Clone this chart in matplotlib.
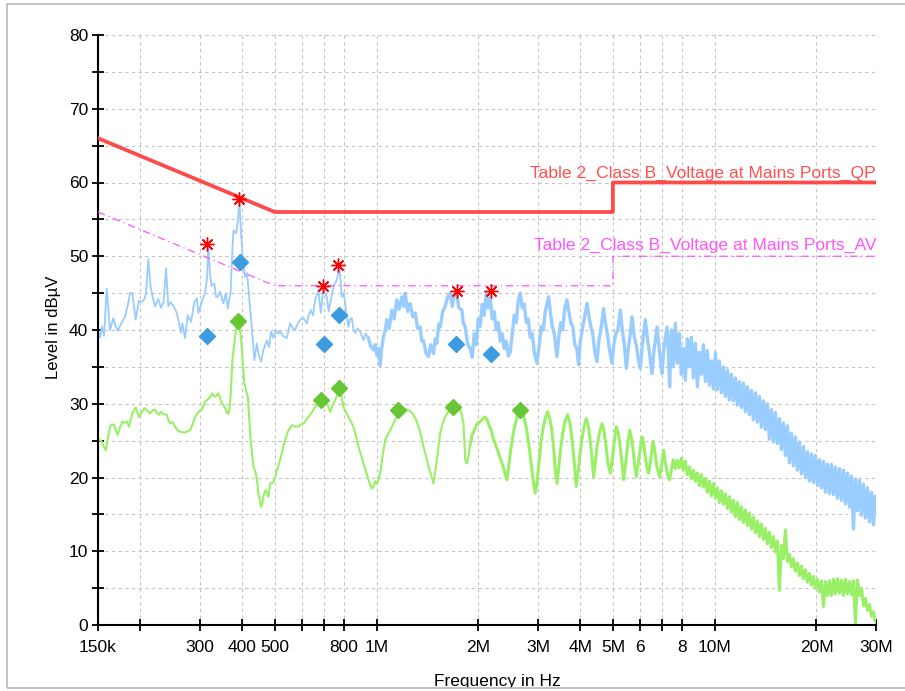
import matplotlib
matplotlib.use("Agg")
import matplotlib.pyplot as plt
import numpy as np
from matplotlib.patches import Rectangle
from matplotlib.ticker import MultipleLocator, NullLocator

plt.rcParams['font.family'] = ['Liberation Sans', 'DejaVu Sans']

# peak (QP scan) trace, 150 kHz .. 7.4 MHz, frequency in MHz, level in dBuV
peak_freq = [
    0.1500, 0.1521, 0.1541, 0.1563, 0.1592, 0.1611, 0.1628, 0.1665, 0.1690, 0.1716,
    0.1754, 0.1803, 0.1840, 0.1865, 0.1895, 0.1939, 0.1983, 0.2024, 0.2057, 0.2080,
    0.2113, 0.2145, 0.2175, 0.2212, 0.2262, 0.2304, 0.2344, 0.2384, 0.2422, 0.2458,
    0.2489, 0.2526, 0.2564, 0.2605, 0.2641, 0.2664, 0.2713, 0.2764, 0.2798, 0.2827,
    0.2891, 0.2939, 0.2971, 0.3041, 0.3110, 0.3152, 0.3181, 0.3218, 0.3251, 0.3314,
    0.3352, 0.3391, 0.3444, 0.3523, 0.3581, 0.3630, 0.3662, 0.3700, 0.3738, 0.3771,
    0.3841, 0.3894, 0.3929, 0.3974, 0.4015, 0.4084, 0.4140, 0.4183, 0.4226, 0.4275,
    0.4352, 0.4423, 0.4471, 0.4555, 0.4627, 0.4735, 0.4810, 0.4876, 0.4953, 0.5035,
    0.5114, 0.5184, 0.5302, 0.5427, 0.5493, 0.5550, 0.5645, 0.5742, 0.5873, 0.5982,
    0.6077, 0.6219, 0.6296, 0.6391, 0.6491, 0.6580, 0.6730, 0.6842, 0.6964, 0.7044,
    0.7127, 0.7215, 0.7289, 0.7455, 0.7629, 0.7766, 0.7894, 0.7991, 0.8073, 0.8156,
    0.8257, 0.8353, 0.8450, 0.8555, 0.8642, 0.8791, 0.8942, 0.9146, 0.9283, 0.9462,
    0.9606, 0.9791, 0.9904, 1.0020, 1.0144, 1.0248, 1.0353, 1.0481, 1.0603, 1.0727,
    1.0896, 1.1098, 1.1273, 1.1483, 1.1664, 1.1881, 1.2028, 1.2151, 1.2360, 1.2572,
    1.2788, 1.3008, 1.3232, 1.3459, 1.3597, 1.3765, 1.4020, 1.4241, 1.4457, 1.4736,
    1.4907, 1.5081, 1.5267, 1.5424, 1.5688, 1.5958, 1.6233, 1.6512, 1.6738, 1.6968,
    1.7236, 1.7496, 1.7882, 1.8041, 1.8288, 1.8603, 1.8923,
    1.9182, 1.9445, 1.9712, 1.9983, 2.0257, 2.0535, 2.0816, 2.1102, 2.1392, 2.1685,
    2.1983, 2.2284, 2.2590, 2.2901, 2.3215, 2.3533, 2.3856, 2.4183, 2.4515, 2.4852,
    2.5192, 2.5538, 2.5888, 2.6244, 2.6604, 2.6969, 2.7339, 2.7714, 2.8095, 2.8480,
    2.8870, 2.9267, 2.9811, 3.0282, 3.0697, 3.1118, 3.1545, 3.2263, 3.2639, 3.3086,
    3.3540, 3.4161, 3.4585, 3.5060, 3.5540, 3.6028, 3.6573, 3.7023, 3.7532, 3.8046,
    3.8569, 3.9097, 3.9579, 4.0042, 4.0590, 4.1147, 4.1912, 4.2429, 4.3012, 4.3601,
    4.4200, 4.4868, 4.5421, 4.6046, 4.6933, 4.7477, 4.8129, 4.8790, 4.9695, 5.0310,
    5.1000, 5.1700, 5.2588, 5.3309, 5.4041, 5.4782, 5.5535, 5.6296, 5.6952, 5.7851,
    5.8645, 5.9451, 6.0266, 6.1092, 6.2353, 6.3209, 6.4079, 6.5268, 6.6073, 6.7533,
    6.8363, 6.9066, 6.9869, 7.0733, 7.2293, 7.2936, 7.3585,
]
peak_level = [
    40.0, 39.0, 40.5, 39.2, 45.6, 42.5, 40.0, 41.6, 40.5, 39.9,
    40.8, 41.8, 43.5, 45.0, 45.0, 41.4, 44.0, 43.8, 44.2, 45.0,
    49.6, 46.0, 44.5, 43.2, 44.2, 43.0, 43.8, 48.4, 43.2, 43.8,
    43.4, 43.0, 42.3, 41.0, 39.6, 40.9, 38.9, 42.0, 41.5, 41.1,
    43.8, 44.3, 42.3, 43.8, 45.0, 47.0, 51.5, 47.5, 46.0, 46.3,
    44.5, 44.5, 45.2, 43.6, 45.0, 42.9, 44.0, 45.0, 50.0, 53.5,
    53.1, 55.0, 57.6, 53.0, 50.0, 47.2, 47.7, 45.4, 43.0, 40.4,
    35.9, 38.2, 36.8, 35.7, 37.3, 38.6, 37.7, 39.8, 38.9, 40.0,
    39.5, 39.8, 39.1, 38.9, 40.0, 40.9, 40.3, 40.0, 41.1, 41.5,
    41.6, 40.9, 42.0, 42.7, 42.0, 44.1, 45.4, 42.3, 45.9, 45.0,
    44.5, 42.5, 43.6, 45.9, 46.8, 48.5, 44.5, 45.0, 43.6, 42.0,
    40.4, 41.5, 41.6, 40.0, 39.6, 40.2, 39.8, 38.6, 39.5, 38.9,
    37.8, 37.3, 38.0, 36.6, 37.5, 35.2, 37.5, 39.1, 40.0, 41.4,
    40.2, 42.7, 41.5, 44.1, 42.8, 44.5, 43.2, 45.0, 42.5, 43.6,
    41.8, 42.3, 40.2, 40.4, 38.5, 38.6, 36.8, 36.4, 38.0, 36.8,
    38.8, 38.2, 40.8, 40.4, 42.5, 43.2, 44.5, 45.0, 43.2, 44.8,
    45.3, 43.0, 42.7, 41.0, 40.4, 38.0, 37.5,
    36.3, 39.5, 38.0, 41.5, 40.5, 43.5, 42.0, 45.0, 43.0, 44.5,
    41.5, 42.5, 40.0, 41.0, 38.5, 39.5, 37.5, 38.5, 36.5, 37.0,
    39.5, 42.0, 41.0, 44.0, 45.0, 43.0, 43.5, 41.0, 41.5, 39.0,
    39.5, 37.0, 35.5, 38.0, 40.5, 40.0, 42.5, 44.5, 42.5, 40.5,
    39.5, 36.4, 39.0, 41.0, 40.0, 43.0, 44.1, 42.5, 41.0, 40.5,
    38.0, 37.5, 35.3, 38.5, 40.0, 41.5, 43.6, 42.0, 40.5, 39.5,
    37.0, 35.7, 38.5, 40.0, 42.9, 41.0, 39.5, 37.5, 35.5, 38.0,
    39.5, 40.0, 42.7, 40.0, 38.0, 34.8, 37.5, 39.5, 41.8, 39.0,
    38.0, 36.0, 34.8, 38.0, 41.4, 39.0, 37.0, 34.1, 37.0, 40.4,
    38.0, 36.0, 34.1, 37.5, 40.4, 37.0, 32.3,
]

# average trace, 150 kHz .. 7.4 MHz
avg_freq = [
    0.1500, 0.1521, 0.1538, 0.1557, 0.1581, 0.1606, 0.1628, 0.1650, 0.1676, 0.1696,
    0.1716, 0.1743, 0.1770, 0.1797, 0.1824, 0.1853, 0.1895, 0.1939, 0.1963, 0.1983,
    0.2024, 0.2066, 0.2102, 0.2138, 0.2175, 0.2212, 0.2242, 0.2273, 0.2304, 0.2341,
    0.2395, 0.2425, 0.2450, 0.2492, 0.2535, 0.2578, 0.2623, 0.2713, 0.2808, 0.2856,
    0.2905, 0.2971, 0.3041, 0.3078, 0.3110, 0.3163, 0.3218, 0.3268, 0.3307, 0.3345,
    0.3405, 0.3444, 0.3485, 0.3528, 0.3564, 0.3613, 0.3645, 0.3675, 0.3700, 0.3746,
    0.3802, 0.3860, 0.3921, 0.3993, 0.4029, 0.4065, 0.4112, 0.4160, 0.4197, 0.4226,
    0.4275, 0.4322, 0.4393, 0.4432, 0.4471, 0.4524, 0.4555, 0.4595, 0.4627, 0.4665,
    0.4703, 0.4745, 0.4787, 0.4843, 0.4893, 0.4953, 0.5011, 0.5069, 0.5132, 0.5184,
    0.5302, 0.5364, 0.5475, 0.5614, 0.5742, 0.5873, 0.5962, 0.6077, 0.6210, 0.6360,
    0.6469, 0.6580, 0.6694, 0.6809, 0.6973, 0.7127, 0.7215, 0.7289, 0.7414, 0.7541,
    0.7645, 0.7766, 0.7872, 0.7981, 0.8128, 0.8257, 0.8410, 0.8543, 0.8701, 0.8839,
    0.9003, 0.9146, 0.9315, 0.9462, 0.9573, 0.9684, 0.9804, 0.9904, 1.0020, 1.0144,
    1.0248, 1.0424, 1.0603, 1.0786, 1.0970, 1.1159, 1.1350, 1.1546, 1.1744, 1.2012,
    1.2292, 1.2572, 1.2858, 1.3097, 1.3303, 1.3551, 1.3765, 1.4020, 1.4241, 1.4506,
    1.4736, 1.4907, 1.5081, 1.5267, 1.5424, 1.5688, 1.5958, 1.6288, 1.6704, 1.7083,
    1.7472, 1.7797, 1.8078, 1.8288, 1.8503, 1.8730, 1.8923,
    1.9182, 1.9512, 1.9847, 2.0257, 2.0674, 2.0958, 2.1246, 2.1538, 2.1834, 2.2133,
    2.2436, 2.2744, 2.3057, 2.3373, 2.3694, 2.4018, 2.4299, 2.4599, 2.4936, 2.5278,
    2.5626, 2.5976, 2.6333, 2.6604, 2.6969, 2.7339, 2.7714, 2.8095, 2.8480, 2.8870,
    2.9168, 2.9467, 2.9871, 3.0282, 3.0697, 3.1118, 3.1545, 3.2043, 3.2529, 3.2974,
    3.3427, 3.3769, 3.4161, 3.4585, 3.5060, 3.5540, 3.6028, 3.6722, 3.7278, 3.7788,
    3.8307, 3.8964, 3.9500, 4.0042, 4.0590, 4.1147, 4.1712, 4.2285, 4.2865, 4.3394,
    4.3842, 4.4350, 4.4960, 4.5577, 4.6422, 4.6996, 4.7640, 4.8296, 4.9124, 4.9798,
    5.0481, 5.1173, 5.1877, 5.2588, 5.3237, 5.3786, 5.4410, 5.5155, 5.6029, 5.6682,
    5.7458, 5.8051, 5.8645, 5.9451, 6.0266, 6.0968, 6.1721, 6.2353, 6.3120, 6.3771,
    6.4517, 6.5718, 6.6526, 6.7436, 6.8738, 6.9537, 7.0637, 7.1458, 7.2437, 7.3585,
]
avg_level = [
    25.3, 25.0, 24.9, 24.2, 23.7, 25.5, 26.9, 27.2, 27.1, 26.3,
    25.8, 26.8, 27.6, 27.4, 27.6, 26.9, 28.7, 29.5, 28.8, 28.2,
    28.9, 29.4, 29.0, 28.7, 29.1, 29.2, 28.8, 28.5, 28.9, 28.6,
    28.5, 27.8, 27.3, 27.5, 26.9, 26.4, 26.2, 26.1, 26.4, 27.2,
    28.2, 28.9, 29.2, 29.8, 30.3, 30.6, 30.9, 31.4, 31.0, 31.0,
    31.4, 30.8, 30.1, 29.8, 29.4, 28.8, 28.6, 29.5, 31.0, 35.9,
    38.5, 40.9, 41.4, 37.7, 35.0, 32.8, 31.8, 31.0, 28.5, 26.0,
    23.5, 21.5, 20.6, 19.5, 17.9, 16.8, 16.0, 16.5, 17.4, 18.0,
    18.3, 17.8, 17.4, 19.2, 19.2, 19.4, 20.0, 21.0, 21.7, 22.4,
    24.2, 25.1, 26.3, 27.1, 26.9, 26.9, 27.2, 27.3, 27.9, 28.5,
    29.0, 29.6, 30.0, 30.5, 30.5, 30.1, 29.5, 28.9, 29.8, 30.5,
    31.2, 32.1, 31.0, 29.6, 28.8, 28.2, 27.5, 26.9, 25.5, 24.2,
    23.0, 21.9, 20.7, 19.7, 19.0, 18.5, 18.8, 19.5, 19.2, 19.8,
    20.6, 23.0, 25.1, 25.8, 26.4, 27.1, 27.8, 28.5, 29.2, 29.4,
    29.2, 29.0, 28.5, 27.8, 26.9, 25.6, 24.2, 22.8, 21.5, 20.3,
    19.2, 20.8, 22.4, 24.3, 26.0, 27.3, 28.2, 28.9, 29.6, 29.8,
    29.6, 28.8, 27.3, 22.4, 21.9, 23.0, 24.5,
    25.8, 26.5, 27.3, 27.6, 28.0, 28.2, 27.8, 27.0, 26.4, 25.3,
    24.6, 23.8, 23.0, 22.3, 21.4, 20.4, 19.7, 21.5, 23.8, 25.6,
    27.0, 28.0, 28.9, 29.4, 29.0, 28.0, 26.8, 25.0, 23.0, 20.6,
    19.0, 17.9, 19.5, 22.5, 25.0, 26.8, 28.0, 28.9, 28.0, 26.5,
    23.8, 21.0, 19.2, 21.5, 24.0, 26.0, 27.5, 28.5, 27.5, 25.5,
    22.8, 18.8, 21.0, 23.5, 25.5, 27.0, 28.0, 27.0, 25.0, 22.5,
    20.1, 22.0, 24.5, 26.0, 27.3, 26.5, 24.5, 22.0, 20.6, 22.5,
    25.0, 26.9, 26.0, 24.0, 21.8, 19.7, 21.5, 24.0, 26.4, 25.5,
    23.5, 21.5, 20.1, 22.0, 24.0, 25.5, 24.5, 22.8, 21.2, 20.6,
    22.0, 24.9, 23.5, 21.5, 20.1, 21.5, 23.7, 22.0, 20.5, 19.7,
]

# dense sweep above 7.4 MHz, shared by both traces
band_freq = [
    7.444, 7.546, 7.650, 7.755,
    7.861, 7.969, 8.078, 8.189, 8.301,
    8.416, 8.531, 8.648, 8.766, 8.887,
    9.009, 9.133, 9.258, 9.385, 9.514,
    9.644, 9.777, 9.911, 10.047, 10.185,
    10.324, 10.466, 10.609, 10.755, 10.902,
    11.053, 11.204, 11.358, 11.514, 11.672,
    11.832, 11.994, 12.159, 12.326, 12.495,
    12.666, 12.839, 13.016, 13.194, 13.375,
    13.560, 13.745, 13.934, 14.125, 14.319,
    14.515, 14.714, 14.916, 15.121, 15.328,
    15.539, 15.752, 15.968, 16.187, 16.409,
    16.634, 16.862, 17.094, 17.328, 17.566,
    17.808, 18.052, 18.299, 18.550, 18.805,
    19.064, 19.325, 19.590, 19.859, 20.132,
    20.408, 20.688, 20.972, 21.259, 21.551,
    21.847, 22.146, 22.450, 22.758, 23.071,
    23.388, 23.709, 24.034, 24.363, 24.698,
    25.037, 25.380, 25.728, 26.081, 26.440,
    26.802, 27.170, 27.542, 27.920, 28.304,
    28.693, 29.086, 29.485, 29.80, 30.0,
]
band_peak = [
    40.0, 35.0, 40.9, 35.5,
    39.5, 34.0, 37.5, 33.2, 38.8,
    35.0, 39.0, 33.5, 38.2, 32.3,
    37.0, 34.0, 38.0, 33.0, 37.2,
    32.5, 35.8, 32.0, 36.9, 31.9,
    35.8, 31.5, 35.0, 31.0, 34.6,
    30.5, 34.0, 30.4, 33.5, 29.8,
    33.0, 29.5, 32.8, 28.9, 32.3,
    28.5, 31.8, 27.8, 31.5, 27.5,
    31.0, 26.8, 30.4, 26.5, 30.0,
    25.2, 29.2, 24.8, 28.8, 24.6,
    28.0, 23.8, 27.4, 23.0, 27.0,
    22.0, 26.0, 21.6, 25.5, 21.0,
    24.8, 20.5, 24.2, 20.0, 23.5,
    19.5, 23.2, 19.3, 23.0, 18.9,
    22.4, 18.6, 22.2, 18.0, 21.8,
    17.8, 21.8, 17.7, 21.4, 17.2,
    21.2, 16.9, 21.0, 16.4, 20.6,
    16.0, 20.2, 13.0, 19.8, 15.5,
    19.6, 14.9, 19.1, 14.5, 18.6,
    14.0, 18.0, 13.6, 17.5, 15.0,
]
band_avg = [
    21.0, 22.4, 21.2, 22.3,
    21.3, 22.6, 21.0, 22.2, 20.4,
    21.4, 19.8, 21.0, 19.5, 20.6,
    18.9, 20.4, 18.7, 19.9, 18.0,
    19.5, 17.5, 19.2, 17.2, 18.6,
    16.6, 18.2, 16.4, 17.8, 15.8,
    17.4, 15.3, 16.9, 14.7, 16.6,
    14.3, 16.0, 13.9, 15.6, 13.5,
    15.2, 13.0, 14.6, 12.5, 14.1,
    12.0, 13.7, 11.6, 13.1, 11.0,
    12.6, 10.5, 12.0, 9.9, 11.4,
    4.7, 10.8, 9.0, 12.9, 8.6,
    9.6, 7.9, 9.0, 7.3, 8.4,
    6.7, 8.0, 6.3, 7.5, 5.8,
    7.0, 5.4, 6.6, 5.0, 6.2,
    4.5, 6.0, 2.5, 5.9, 4.0,
    6.0, 4.0, 6.2, 4.2, 6.3,
    4.3, 6.1, 4.0, 6.2, 4.2,
    5.9, 4.1, 6.0, 0.3, 6.1,
    4.0, 5.0, 2.6, 3.6, 2.0,
    2.8, 1.2, 1.8, 0.6, 0.4,
]

# limit lines (class B, mains ports)
qp_freq = [0.15, 0.5, 5.0, 5.0, 30.0]
qp_level = [66, 56, 56, 60, 60]
av_freq = [0.15, 0.5, 5.0, 5.0, 30.0]
av_level = [56, 46, 46, 50, 50]

# final measurement markers
star_freq = [0.3142, 0.3929, 0.6964, 0.7713, 1.7236, 2.1789]
star_level = [51.6, 57.7, 45.9, 48.8, 45.3, 45.3]
qp_meas_freq = [0.3159, 0.3947, 0.6997, 0.7750, 1.7200, 2.1789]
qp_meas_level = [39.2, 49.2, 38.1, 42.1, 38.1, 36.7]
av_meas_freq = [0.3902, 0.6842, 0.7750, 1.1609, 1.6819, 2.6604]
av_meas_level = [41.2, 30.5, 32.1, 29.2, 29.6, 29.2]

tick_pos = [0.15, 0.2, 0.3, 0.4, 0.5, 0.6, 0.7, 0.8, 1, 2, 3, 4, 5, 6, 7, 8, 10, 20, 30]
tick_lab = ['150k', '', '300', '400', '500', '', '', '800', '1M', '2M', '3M', '4M',
            '5M', '6', '', '8', '10M', '20M', '30M']

fig = plt.figure(figsize=(9.05, 6.91), dpi=100)
ax = fig.add_axes([98/905, 66/691, 778/905, 590/691])

pf = np.concatenate([peak_freq, band_freq])
pl = np.concatenate([peak_level, band_peak])
af = np.concatenate([avg_freq, band_freq])
al = np.concatenate([avg_level, band_avg])

# the sweep looks thin at low frequency and thickens into a noisy band higher up
lo = pf <= 0.95
ax.plot(pf[lo], pl[lo], color='#99ccff', lw=1.3, zorder=2)
hi = pf >= 0.93
ax.plot(pf[hi], pl[hi], color='#99ccff', lw=2.4, zorder=2)
lo = af <= 1.92
ax.plot(af[lo], al[lo], color='#99f066', lw=1.5, zorder=2)
hi = af >= 1.89
ax.plot(af[hi], al[hi], color='#99f066', lw=2.2, zorder=2)

ax.plot(qp_freq, qp_level, color='#ff4a4a', lw=2.7, zorder=3)
ax.plot(av_freq, av_level, color='#ff55ff', lw=0.9, ls=(0, (6, 3, 1, 3)), zorder=3)

ax.plot(qp_meas_freq, qp_meas_level, ls='none', marker='D', ms=8.5, color='#3d9be0', zorder=5)
ax.plot(av_meas_freq, av_meas_level, ls='none', marker='D', ms=8.5, color='#66c633', zorder=5)
ax.plot(star_freq, star_level, ls='none', marker=(8, 2, 0), ms=10, mew=1.0, color='red', zorder=6)

ax.text(30, 60.6, 'Table 2_Class B_Voltage at Mains Ports_QP', color='#ff5050',
        fontsize=12.6, ha='right', va='baseline', zorder=4)
ax.text(30, 50.8, 'Table 2_Class B_Voltage at Mains Ports_AV', color='#ff55ff',
        fontsize=12.6, ha='right', va='baseline', zorder=4)

ax.set_xscale('log')
ax.set_xlim(0.15, 30)
ax.set_ylim(0, 80)
ax.set_xticks(tick_pos, tick_lab)
ax.xaxis.set_minor_locator(NullLocator())
ax.yaxis.set_major_locator(MultipleLocator(10))
ax.yaxis.set_minor_locator(MultipleLocator(5))

ax.tick_params(axis='x', which='major', direction='inout', length=9, width=1.3,
               labelsize=12.5, pad=6)
ax.tick_params(axis='y', which='both', direction='inout', length=8, width=1.3,
               labelsize=12.5, pad=3)
for s in ['top', 'right']:
    ax.spines[s].set_visible(False)
for s in ['left', 'bottom']:
    ax.spines[s].set_linewidth(1.5)

ax.set_axisbelow(True)
ax.grid(True, axis='x', which='major', color='#c4c4c4', ls=(0, (3, 3)), lw=0.8)
ax.grid(True, axis='y', which='both', color='#c4c4c4', ls=(0, (3, 3)), lw=0.8)

ax.set_ylabel('Level in dBµV', fontsize=12)
ax.yaxis.set_label_coords(-0.047, 0.505)
fig.text(497/905, 5/691, 'Frequency in Hz', fontsize=12.5, ha='center', va='baseline')

# thin frame round the picture, the x label runs into its lower edge
fig.add_artist(Rectangle((0, 0), 1, 3/691, transform=fig.transFigure,
                         fc='white', ec='none', zorder=5))
fig.add_artist(Rectangle((7/905, 3/691), 1, 684/691, transform=fig.transFigure,
                         fill=False, ec='#b8b8b8', lw=1.2, zorder=6))

fig.savefig('out.png', dpi=100)
